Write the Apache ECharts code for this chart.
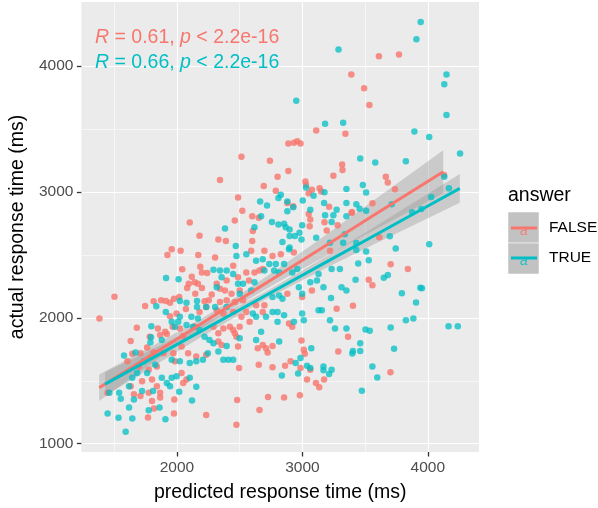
<!DOCTYPE html>
<html>
<head>
<meta charset="utf-8">
<script src="https://cdn.jsdelivr.net/npm/echarts@6/dist/echarts.min.js"></script>
<style>
  html, body { margin: 0; padding: 0; background: #fff; }
  #main { width: 598px; height: 508px; }
</style>
</head>
<body>
<div id="main"></div>
<script>
// answer = FALSE
var falseX = [1958,2029,1924,2170,1502,1382,2042,2118,2186,2199,2241,2094,2081,2141,2167,2199,2146,2277,2254,2220,
  2233,2180,1814,1746,1874,1911,1976,2018,1945,2071,1997,1945,1680,1848,1631,1783,1866,1919,1966,1906,
  2023,2050,2141,1644,1709,1762,1814,1893,1971,2037,2089,2154,2233,1605,1696,1775,1840,1984,2037,2076,
  1631,1722,1801,1840,1866,1775,1657,1709,1801,1866,1979,2050,1447,1817,1976,1769,2233,
  2102,2180,
  2304,2448,2592,2697,2762,2828,2932,3220,2553,2618,2658,2684,2574,2487,2396,2343,2317,2383,2435,2500,
  2527,2461,2396,2343,2317,2370,2448,2514,2579,2553,2631,2684,2697,2880,2998,3076,3273,3364,3286,2291,
  2330,2370,2422,2448,2474,2500,2330,2356,2461,2487,2893,2919,2644,2684,2710,2723,2762,2906,2862,2762,
  2652,2495,2993,3011,3019,2985,3063,3037,3108,3134,3173,2480,2658,2726,2854,2980,2474,
  2343,2514,2741,2888,2932,2959,2985,3110,3343,2802,2888,2692,2788,2487,2521,2461,2600,2652,2605,2600,
  2330,2390,3024,3029,3050,3076,3137,3150,3247,3317,3320,2880,2927,3050,3063,3058,3213,3176,3281,3194,3391,
  3610,3770,3390,3492,3534,3665,3681,3738,4129,3558,3396,3613,3704,3841,3529,3558,3403,3702];
var falseY = [2545,2532,2500,2500,2167,1994,2385,2327,2406,2361,2356,2270,2236,2283,2270,2236,2191,2186,2139,2131,
  2086,2047,2131,2094,2139,2133,2152,2165,2120,2070,2034,2013,1921,1916,1816,1850,1863,1871,1929,1890,
  1916,1856,1929,1714,1719,1764,1725,1719,1719,1772,1719,1693,1706,1654,1614,1588,1614,1654,1562,1510,
  1457,1497,1510,1457,1405,1405,1392,1379,1339,1366,1352,1483,1405,1279,1240,1208,1227,
  2757,2652,
  2479,2414,2532,2532,2492,2506,2519,2532,2361,2361,2375,2388,2296,2322,2296,2230,2270,2217,2191,2217,
  2139,2126,2139,2126,2060,2034,2047,2008,1968,2047,2099,2047,2099,2191,2165,2217,2073,1850,1732,1929,
  1877,1916,1929,1903,1850,1929,1811,1785,1877,1772,1955,1929,1759,1785,1759,1725,1777,1654,1620,1607,
  1628,1601,1819,1746,1714,1601,1588,1510,1483,1449,1510,1347,1268,1371,1366,1384,1150,
  3095,3279,3247,3384,3391,3402,3384,3488,3462,3121,3166,3048,3009,2956,2851,2773,2807,2794,2689,2610,
  2623,2610,3082,3056,2990,3017,3030,3004,3129,3218,3174,2912,2886,2825,2781,2728,2883,2760,2736,2694,2833,
  4078,4091,3934,3823,3690,3121,3076,3021,3134,2911,2841,2641,2426,2387,2303,2259,2096,1567];

// answer = TRUE
var trueX = [1913,2013,1835,1911,2023,2076,2160,2160,2233,2023,2115,2167,1796,1793,1788,1879,1958,2010,1984,2076,
  2128,2180,2220,2259,2246,2207,2154,2102,2023,1958,1578,1670,1735,1827,1762,1683,1644,1618,1657,1722,
  1879,1919,1958,1997,1945,2018,2102,2154,2120,1809,1461,1539,1552,1618,1447,1534,1644,1775,1861,1908,1591,
  2291,2343,2396,2448,2474,2553,2631,2684,2697,2736,2788,2854,2893,2775,2815,2919,2959,2317,2356,2487,
  2500,2527,2592,2618,2762,2815,2841,2972,2998,3063,3116,3129,3168,3233,3299,3312,3351,3228,2304,2396,
  2605,2631,2710,2762,2802,2802,2854,2932,2998,3011,3129,3155,3220,3260,3351,2291,2330,2370,2409,2448,
  2396,2500,2631,2671,2815,2946,2985,3037,2966,3063,2836,3071,3168,3168,3213,3233,
  2951,3181,3325,3351,3029,3089,3176,2663,2718,2828,2809,2880,2927,2880,3003,3063,3173,3273,3247,3181,
  3351,3351,3233,2671,2757,2809,2854,2867,2898,2998,2383,2618,2469,2898,2940,2977,2993,3110,2841,2898,
  3220,3325,3338,3288,
  3943,3909,4149,4131,4149,3893,4011,4257,3461,3581,3825,3482,3508,3430,3456,3508,3712,3875,3948,4027,
  4168,4131,3697,3744,4011,3430,3430,3508,3445,3529,3424,3649,3681,3793,3940,3953,3906,3825,3885,3704,
  4165,4239,3503,3537,3461,3403,3398,3461,3731,3558,3597,3474];
var trueY = [2317,2306,2091,2047,2133,2120,2133,2086,2086,2008,2008,1994,1934,1845,1803,1824,1968,1968,1929,1942,
  1929,1903,1850,1824,1719,1667,1654,1641,1654,1667,1701,1725,1654,1628,1562,1562,1523,1457,1352,1418,
  1523,1483,1523,1536,1457,1413,1523,1452,1344,1418,1405,1405,1358,1287,1240,1206,1200,1266,1287,1195,1095,
  2382,2375,2375,2348,2492,2506,2453,2466,2375,2427,2427,2427,2545,2375,2361,2361,2388,2243,2322,2270,
  2191,2270,2217,2283,2165,2178,2152,2243,2191,2283,2296,2348,2243,2388,2388,2243,2217,2157,2086,2086,
  2034,2008,2008,2047,2047,1968,2021,1968,2034,1981,2060,2060,1981,1916,1916,1798,1732,1667,1667,1667,
  1777,1837,1824,1890,1811,1641,1680,1620,1557,1601,1541,1759,1614,1583,1554,1588,
  3724,3541,3549,3024,3035,2969,2998,2925,2893,2977,2951,2925,2878,2846,2933,2859,2912,2859,2815,2815,
  2912,2807,2762,2807,2762,2741,2747,2720,2702,2736,2710,2720,2571,2650,2650,2676,2623,2637,2602,2558,
  2597,2597,2663,4131,
  4350,4214,3934,3855,3611,3480,3436,3305,3265,3234,3244,3056,2995,2903,2867,2851,2903,2838,2864,2959,
  3029,3121,2649,2550,2584,2594,2539,2526,2432,2458,2303,2319,2340,2196,2238,2235,2122,1981,1994,1923,
  1934,1934,1908,1897,1797,1737,1716,1737,1755,1614,1525,1420];

// linear fit and 95% band
var falseFitX = [1380, 1800, 2200, 2400, 2800, 3200, 3600, 4123];
var falseFitY = [1444, 1707, 1957, 2083, 2333, 2583, 2834, 3161];
var falseLo = [1339, 1639, 1917, 2048, 2281, 2498, 2712, 2990];
var falseHi = [1549, 1775, 1997, 2118, 2385, 2668, 2956, 3332];

var trueFitX = [1427, 1800, 2200, 2700, 3200, 3600, 4000, 4255];
var trueFitY = [1473, 1678, 1898, 2173, 2448, 2668, 2888, 3028];
var trueLo = [1378, 1608, 1852, 2143, 2402, 2598, 2791, 2914];
var trueHi = [1568, 1748, 1944, 2203, 2494, 2738, 2985, 3142];

var xTicks = [2000, 3000, 4000];
var yTicks = [1000, 2000, 3000, 4000];
var xMinor = [1500, 2500, 3500];
var yMinor = [1500, 2500, 3500];

var RED = '#F8766D';
var TEAL = '#00BFC4';
var FONT = '"Liberation Sans", Arial, Helvetica, sans-serif';

var myChart = echarts.init(document.getElementById('main'));

function pairs(xs, ys) {
  var out = [];
  for (var i = 0; i < xs.length; i++) out.push([xs[i], ys[i]]);
  return out;
}

function band(xs, lo, hi) {
  return {
    type: 'custom',
    silent: true,
    data: xs.map(function (x, i) { return [x, lo[i], hi[i]]; }),
    encode: { x: 0, y: [1, 2] },
    renderItem: function (params, api) {
      if (params.dataIndex !== 0) return null;
      var pts = [];
      for (var i = 0; i < xs.length; i++) pts.push(api.coord([xs[i], hi[i]]));
      for (var j = xs.length - 1; j >= 0; j--) pts.push(api.coord([xs[j], lo[j]]));
      return { type: 'polygon', shape: { points: pts }, style: { fill: 'rgba(153,153,153,0.4)' } };
    }
  };
}

function fitLine(xs, ys, color) {
  return {
    type: 'line',
    data: pairs(xs, ys),
    showSymbol: false,
    silent: true,
    lineStyle: { color: color, width: 3 },
    itemStyle: { color: color }
  };
}

var axisCommon = {
  type: 'value',
  axisLine: { show: false },
  axisTick: { show: true, length: 4.5, lineStyle: { color: '#333333', width: 1.3 } },
  axisLabel: { color: '#4D4D4D', fontSize: 15.5, fontFamily: FONT, formatter: function (v) { return String(v); } },
  nameLocation: 'middle',
  nameTextStyle: { color: '#000', fontSize: 19.5, fontFamily: FONT }
};

var option = {
  animation: false,
  backgroundColor: '#fff',
  grid: { left: 76, top: 2, right: 119, bottom: 51, show: true, backgroundColor: '#EBEBEB', borderWidth: 0 },
  xAxis: [
    Object.assign({}, axisCommon, {
      min: 1238, max: 4408,
      name: 'predicted response time (ms)', nameGap: 31,
      axisTick: Object.assign({}, axisCommon.axisTick, { customValues: xTicks }),
      axisLabel: Object.assign({}, axisCommon.axisLabel, { customValues: xTicks, margin: 8 }),
      splitLine: { lineStyle: { color: '#fff', width: 1.1 } }
    }),
    {
      type: 'value', min: 1238, max: 4408, show: true,
      axisLine: { show: false }, axisLabel: { show: false },
      axisTick: { show: false, customValues: xMinor },
      splitLine: { lineStyle: { color: '#fff', width: 0.55 } }
    }
  ],
  yAxis: [
    Object.assign({}, axisCommon, {
      min: 934, max: 4509,
      name: 'actual response time (ms)', nameGap: 50,
      axisTick: Object.assign({}, axisCommon.axisTick, { customValues: yTicks }),
      axisLabel: Object.assign({}, axisCommon.axisLabel, { customValues: yTicks, margin: 8 }),
      splitLine: { lineStyle: { color: '#fff', width: 1.1 } }
    }),
    {
      type: 'value', min: 934, max: 4509, show: true,
      axisLine: { show: false }, axisLabel: { show: false },
      axisTick: { show: false, customValues: yMinor },
      splitLine: { lineStyle: { color: '#fff', width: 0.55 } }
    }
  ],
  series: [
    {
      type: 'scatter', data: pairs(falseX, falseY), symbolSize: 6.5,
      itemStyle: { color: RED, opacity: 0.8 }
    },
    {
      type: 'scatter', data: pairs(trueX, trueY), symbolSize: 6.5,
      itemStyle: { color: TEAL, opacity: 0.75 }
    },
    band(falseFitX, falseLo, falseHi),
    fitLine(falseFitX, falseFitY, RED),
    band(trueFitX, trueLo, trueHi),
    fitLine(trueFitX, trueFitY, TEAL)
  ],
  graphic: [
    // correlation labels
    {
      type: 'text', left: 95, top: 28, z: 100,
      style: {
        text: '{i|R} = 0.61, {i|p} < 2.2e-16', fill: RED, font: '19.5px ' + FONT,
        rich: { i: { fontStyle: 'italic', fill: RED, fontSize: 19.5, fontFamily: FONT } }
      }
    },
    {
      type: 'text', left: 95, top: 53, z: 100,
      style: {
        text: '{i|R} = 0.66, {i|p} < 2.2e-16', fill: TEAL, font: '19.5px ' + FONT,
        rich: { i: { fontStyle: 'italic', fill: TEAL, fontSize: 19.5, fontFamily: FONT } }
      }
    },
    // legend
    { type: 'text', left: 508, top: 186, style: { text: 'answer', fill: '#000', font: '19.5px ' + FONT } },
    { type: 'rect', shape: { x: 508, y: 212, width: 31, height: 31 }, style: { fill: '#C2C2C2', stroke: '#fff', lineWidth: 0.5 } },
    { type: 'rect', shape: { x: 508, y: 243, width: 31, height: 31 }, style: { fill: '#C2C2C2', stroke: '#fff', lineWidth: 0.5 } },
    { type: 'text', x: 524, y: 231, style: { text: 'a', fill: RED, opacity: 0.8, font: 'italic 14px ' + FONT, align: 'center', verticalAlign: 'middle' } },
    { type: 'text', x: 524, y: 261, style: { text: 'a', fill: TEAL, opacity: 0.8, font: 'italic 14px ' + FONT, align: 'center', verticalAlign: 'middle' } },
    { type: 'line', shape: { x1: 511, y1: 228, x2: 537, y2: 228 }, style: { stroke: RED, lineWidth: 3 } },
    { type: 'line', shape: { x1: 511, y1: 258, x2: 537, y2: 258 }, style: { stroke: TEAL, lineWidth: 3 } },
    { type: 'text', left: 549, top: 220, style: { text: 'FALSE', fill: '#000', font: '15.5px ' + FONT } },
    { type: 'text', left: 549, top: 250, style: { text: 'TRUE', fill: '#000', font: '15.5px ' + FONT } }
  ]
};

option && myChart.setOption(option);
</script>
</body>
</html>
